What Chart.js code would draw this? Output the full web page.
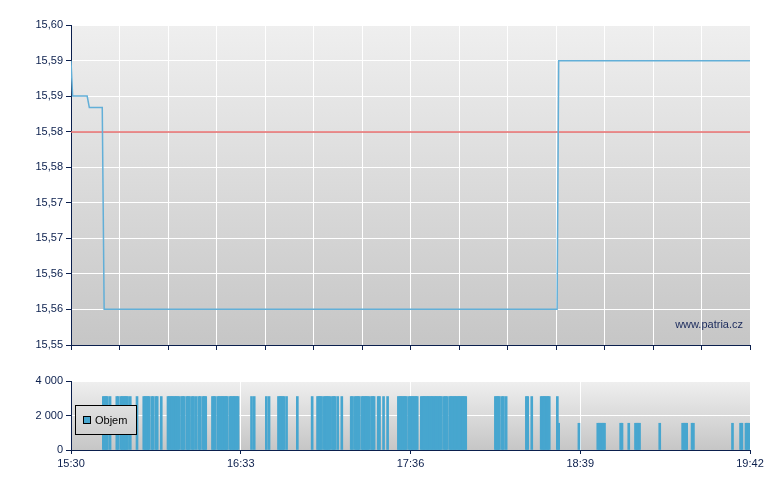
<!DOCTYPE html>
<html>
<head>
<meta charset="utf-8">
<script src="https://cdn.jsdelivr.net/npm/chart.js@4/dist/chart.umd.min.js"></script>
<style>
html,body{margin:0;padding:0;background:#ffffff;}
#wrap{position:relative;width:780px;height:490px;overflow:hidden;}
canvas{position:absolute;left:0;}
#priceCanvas{top:0;}
#volCanvas{top:360px;}
</style>
</head>
<body>
<div id="wrap">
<canvas id="priceCanvas" width="780" height="360"></canvas>
<canvas id="volCanvas" width="780" height="130"></canvas>
</div>
<script>
// ---- time axis (minutes after 15:30) ----
const timeTicksTop = [0,18,36,54,72,90,108,126,144,162,180,198,216,234,252];
const timeTicks = [0,63,126,189,252];
const timeTickLabels = ['15:30','16:33','17:36','18:39','19:42'];

// ---- price ----
const priceTimes = [0, 0.6, 6.0, 6.8, 11.6, 12.3, 180.4, 181, 252];
const prices     = [15.5944, 15.5889, 15.5889, 15.5871, 15.5871, 15.5556, 15.5556, 15.5944, 15.5944];
const refTimes   = [0, 252];
const refPrices  = [15.5833, 15.5833];
const priceTicks = [15.55, 15.555556, 15.561111, 15.566667, 15.572222, 15.577778, 15.583333, 15.588889, 15.594444, 15.60];
const priceTickLabels = ['15,55','15,56','15,56','15,57','15,57','15,58','15,58','15,59','15,59','15,60'];

// ---- volume ----
const volTicks = [0, 2000, 4000];
const volTickLabels = ['0', '2 000', '4 000'];
const volTimes = [
  12,12.5,13,13.5,14.5,17,17.5,18.5,19,19.5,20,20.5,21,22,24.5,
  27,27.5,28,28.5,29,30,30.5,31.5,32,33.5,
  36,36.5,37,37.5,38,38.5,39,39.5,40,41,41.5,42,
  43,43.5,44,45,45.5,46.5,47.5,48,49,49.5,50,
  52.5,53,53.5,54.5,55,55.5,56,56.5,57,57.5,58,
  59,59.5,60,60.5,61,61.5,62,67,68,72.5,73.5,
  77,77.5,78,78.5,79,80,84,89.5,
  91.5,92,92.5,93,94,94.5,95,95.5,96,97,97.5,98,99,100.5,
  104,104.5,105.5,106,106.5,107,108,108.5,109,109.5,110,110.5,111.5,112,112.5,
  114,114.5,116,117.5,121.5,122,122.5,123,123.5,124,124.5,
  125.5,126,126.5,127,127.5,128,128.5,
  130,130.5,131,131.5,132,132.5,133,133.5,134,134.5,135,135.5,136,136.5,137,137.5,
  138.5,139,139.5,140.5,141,141.5,142,142.5,143,143.5,144,144.5,145,145.5,146,146.5,
  157.5,158,158.5,159,160,160.5,161.5,169,169.5,171,174.5,175,175.5,176,176.5,177,177.5,180.5,
  181,188.5,195.5,196,196.5,197,197.5,198,204,204.5,207,209.5,210,210.5,211,
  218.5,227,227.5,228,228.5,230.5,231,245.5,248.5,249,250.5,251,251.5
];
const volValues = [
  3100,3100,3100,3100,3100,3100,3100,3100,3100,3100,3100,3100,3100,3100,3100,
  3100,3100,3100,3100,3100,3100,3100,3100,3100,3100,
  3100,3100,3100,3100,3100,3100,3100,3100,3100,3100,3100,3100,
  3100,3100,3100,3100,3100,3100,3100,3100,3100,3100,3100,
  3100,3100,3100,3100,3100,3100,3100,3100,3100,3100,3100,
  3100,3100,3100,3100,3100,3100,3100,3100,3100,3100,3100,
  3100,3100,3100,3100,3100,3100,3100,3100,
  3100,3100,3100,3100,3100,3100,3100,3100,3100,3100,3100,3100,3100,3100,
  3100,3100,3100,3100,3100,3100,3100,3100,3100,3100,3100,3100,3100,3100,3100,
  3100,3100,3100,3100,3100,3100,3100,3100,3100,3100,3100,
  3100,3100,3100,3100,3100,3100,3100,
  3100,3100,3100,3100,3100,3100,3100,3100,3100,3100,3100,3100,3100,3100,3100,3100,
  3100,3100,3100,3100,3100,3100,3100,3100,3100,3100,3100,3100,3100,3100,3100,3100,
  3100,3100,3100,3100,3100,3100,3100,3100,3100,3100,3100,3100,3100,3100,3100,3100,3100,3100,
  1550,1550,1550,1550,1550,1550,1550,1550,1550,1550,1550,1550,1550,1550,1550,
  1550,1550,1550,1550,1550,1550,1550,1550,1550,1550,1550,1550,1550
];
const volLabel = 'Objem';
const watermark = 'www.patria.cz';

// ---- styles ----
const NAVY = '#0b1f4d';
const FONT = {family: '"Liberation Sans", Arial, sans-serif', size: 11};

function areaGradient(ctx, a) {
  const g = ctx.createLinearGradient(0, a.top, 0, a.bottom);
  g.addColorStop(0, '#efefef');
  g.addColorStop(1, '#c6c6c6');
  return g;
}
const bgPlugin = {
  id: 'plotBg',
  beforeDraw(chart) {
    const {ctx, chartArea: a} = chart;
    ctx.save();
    ctx.fillStyle = areaGradient(ctx, a);
    ctx.fillRect(a.left, a.top, a.right - a.left, a.bottom - a.top);
    ctx.restore();
  }
};
const watermarkPlugin = {
  id: 'watermark',
  afterDatasetsDraw(chart) {
    const {ctx, chartArea: a} = chart;
    ctx.save();
    ctx.font = '11px "Liberation Sans", Arial, sans-serif';
    ctx.fillStyle = '#1a2a5c';
    ctx.textAlign = 'right';
    ctx.textBaseline = 'alphabetic';
    ctx.fillText(watermark, a.right - 7, a.bottom - 17);
    ctx.restore();
  }
};
const legendPlugin = {
  id: 'volLegend',
  afterDatasetsDraw(chart) {
    const {ctx, chartArea: a} = chart;
    const x = a.left + 4, y = a.top + 24, w = 61, h = 29;
    ctx.save();
    ctx.fillStyle = areaGradient(ctx, a);
    ctx.fillRect(x, y, w, h);
    ctx.strokeStyle = '#000000';
    ctx.lineWidth = 1;
    ctx.strokeRect(x + 0.5, y + 0.5, w, h);
    ctx.fillStyle = '#47a6cf';
    ctx.fillRect(x + 8, y + 11, 7, 7);
    ctx.strokeRect(x + 8.5, y + 11.5, 7, 7);
    ctx.fillStyle = '#000000';
    ctx.font = '11px "Liberation Sans", Arial, sans-serif';
    ctx.textBaseline = 'middle';
    ctx.textAlign = 'left';
    ctx.fillText(volLabel, x + 20, y + 16);
    ctx.restore();
  }
};

function setTicks(values) {
  return (scale) => { scale.ticks = values.map(v => ({value: v})); };
}

// ---- price chart ----
new Chart(document.getElementById('priceCanvas'), {
  type: 'line',
  data: {
    datasets: [
      {
        data: priceTimes.map((t, i) => ({x: t, y: prices[i]})),
        borderColor: '#62afd8', borderWidth: 1.5, pointRadius: 0, tension: 0, order: 0
      },
      {
        data: refTimes.map((t, i) => ({x: t, y: refPrices[i]})),
        borderColor: '#e56a6a', borderWidth: 1.5, pointRadius: 0, tension: 0, order: 1
      }
    ]
  },
  options: {
    responsive: false, animation: false, devicePixelRatio: 1,
    layout: {padding: {top: 25, right: 30, bottom: 0, left: 0}},
    plugins: {legend: {display: false}, tooltip: {enabled: false}},
    scales: {
      x: {
        type: 'linear', min: 0, max: 252, offset: false,
        afterBuildTicks: setTicks(timeTicksTop),
        afterFit: (s) => { s.height = 15; },
        ticks: {autoSkip: false, maxRotation: 0, callback: () => ''},
        grid: {color: '#ffffff', lineWidth: 1, tickColor: NAVY, tickLength: 5, offset: false},
        border: {color: NAVY, width: 1}
      },
      y: {
        type: 'linear', min: 15.55, max: 15.60,
        afterBuildTicks: setTicks(priceTicks),
        afterFit: (s) => { s.width = 71; },
        ticks: {autoSkip: false, color: NAVY, font: FONT, padding: 3,
                callback: (v, i) => priceTickLabels[i]},
        grid: {color: '#ffffff', lineWidth: 1, tickColor: NAVY, tickLength: 5},
        border: {color: NAVY, width: 1}
      }
    }
  },
  plugins: [bgPlugin, watermarkPlugin]
});

// ---- volume chart ----
new Chart(document.getElementById('volCanvas'), {
  type: 'bar',
  data: {
    datasets: [{
      label: volLabel,
      data: volTimes.map((t, i) => ({x: t, y: volValues[i]})),
      backgroundColor: '#47a6cf', borderWidth: 0, barThickness: 2
    }]
  },
  options: {
    responsive: false, animation: false, devicePixelRatio: 1,
    layout: {padding: {top: 21, right: 30, bottom: 0, left: 0}},
    plugins: {legend: {display: false}, tooltip: {enabled: false}},
    scales: {
      x: {
        type: 'linear', min: 0, max: 252, offset: false,
        afterBuildTicks: setTicks(timeTicks),
        afterFit: (s) => { s.height = 40; },
        ticks: {autoSkip: false, maxRotation: 0, color: NAVY, font: FONT, padding: 3,
                callback: (v, i) => timeTickLabels[i]},
        grid: {color: '#ffffff', lineWidth: 1, tickColor: NAVY, tickLength: 4, offset: false},
        border: {color: NAVY, width: 1}
      },
      y: {
        type: 'linear', min: 0, max: 4000,
        afterBuildTicks: setTicks(volTicks),
        afterFit: (s) => { s.width = 71; },
        ticks: {autoSkip: false, color: NAVY, font: FONT, padding: 3,
                callback: (v, i) => volTickLabels[i]},
        grid: {color: '#ffffff', lineWidth: 1, tickColor: NAVY, tickLength: 5},
        border: {color: NAVY, width: 1}
      }
    }
  },
  plugins: [bgPlugin, legendPlugin]
});
</script>
</body>
</html>
